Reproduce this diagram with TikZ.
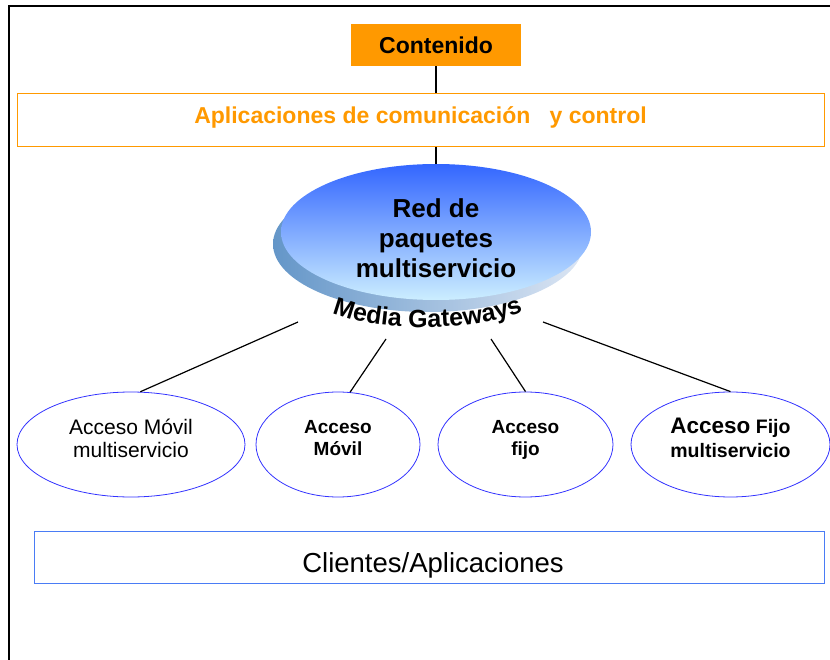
\documentclass[tikz,border=0pt]{standalone}
\usepackage{fontspec}
\setmainfont{Liberation Sans}
\usetikzlibrary{shapes.geometric,decorations.text,positioning}
\definecolor{naranja}{HTML}{FF9900}
\definecolor{azul}{HTML}{3333FF}
\definecolor{azulcaja}{HTML}{4A7CF5}
\definecolor{redtop}{HTML}{3366FF}
\definecolor{redbot}{HTML}{CCEEFF}
\definecolor{sombraA}{HTML}{6496C8}
\definecolor{sombraB}{HTML}{DCE6F4}
\newcommand{\fs}[2]{\fontsize{#1}{#2}\selectfont}
\begin{document}
\begin{tikzpicture}[x=1pt,y=1pt,
        acceso/.style={ellipse,draw=azul,line width=0.8pt,minimum height=105pt,align=center,inner sep=0pt,text depth=13pt},
        capa/.style={rectangle,line width=0.8pt},
        enlace/.style={line width=1.2pt}]
    \useasboundingbox (0,0) rectangle (830,-660);
    \clip (0,0) rectangle (830,-660);
    \draw [line width=2pt] (9,-6) rectangle (850,-680);
    % capas superiores
    \node [capa,fill=naranja,minimum width=170pt,minimum height=42pt,font=\fs{23}{23}\bfseries] (cont) at (436,-45) {Contenido};
    \node [capa,draw=naranja,text=naranja,minimum width=807pt,minimum height=53pt,text depth=10pt,font=\fs{23}{23}\bfseries] (apl) at (420.5,-120) {Aplicaciones de comunicación\ \ \ y control};
    % red de paquetes
    \node [ellipse,minimum width=310pt,minimum height=136pt,left color=sombraA,right color=sombraB] (sombra) at (428,-244) {};
    \node [ellipse,minimum width=310pt,minimum height=136pt,top color=redtop,bottom color=redbot] (red) at (436,-232) {};
    \node [align=center,font=\fs{26}{30}\bfseries] (redtxt) at (436,-238) {Red de\\paquetes\\multiservicio};
    \path [decorate,decoration={text along path,text align=center,
            text={|\fs{25}{25}\bfseries|Media Gateways}}]
        (327,-311) .. controls (370,-333) and (482,-333) .. (528,-309);
    \draw [line width=2pt] (cont.south) -- (cont.south |- apl.north);
    \draw [line width=2pt] (cont.south |- apl.south) -- (red.north);
    % accesos
    \node [acceso,minimum width=228pt,font=\fs{21}{23}] (acc1) at (131,-444.5) {Acceso Móvil\\multiservicio};
    \node [acceso,minimum width=164pt,font=\fs{19}{22}\bfseries] (acc2) at (338,-444.5) {Acceso\\Móvil};
    \node [acceso,minimum width=175pt,font=\fs{19}{22}\bfseries] (acc3) at (525.5,-444.5) {Acceso\\fijo};
    \node [acceso,minimum width=199pt,font=\fs{19.5}{24}\bfseries] (acc4) at (730.5,-444.5) {{\fs{22.5}{24}Acceso} Fijo\\multiservicio};
    \coordinate (mg1) at (298,-322);
    \coordinate (mg2) at (386,-339);
    \coordinate (mg3) at (491,-339);
    \coordinate (mg4) at (543,-322);
    \draw [enlace] (mg1) -- (acc1.80);
    \draw [enlace] (mg2) -- (acc2.77);
    \draw [enlace] (mg3) -- (acc3.north);
    \draw [enlace] (mg4) -- (acc4.north);
    % clientes
    \node [capa,draw=azulcaja,minimum width=790pt,minimum height=52pt,text height=36pt,font=\fs{27.5}{27.5}] (cli) at (429,-557.5) {\hspace*{8pt}Clientes/Aplicaciones};
\end{tikzpicture}
\end{document}
